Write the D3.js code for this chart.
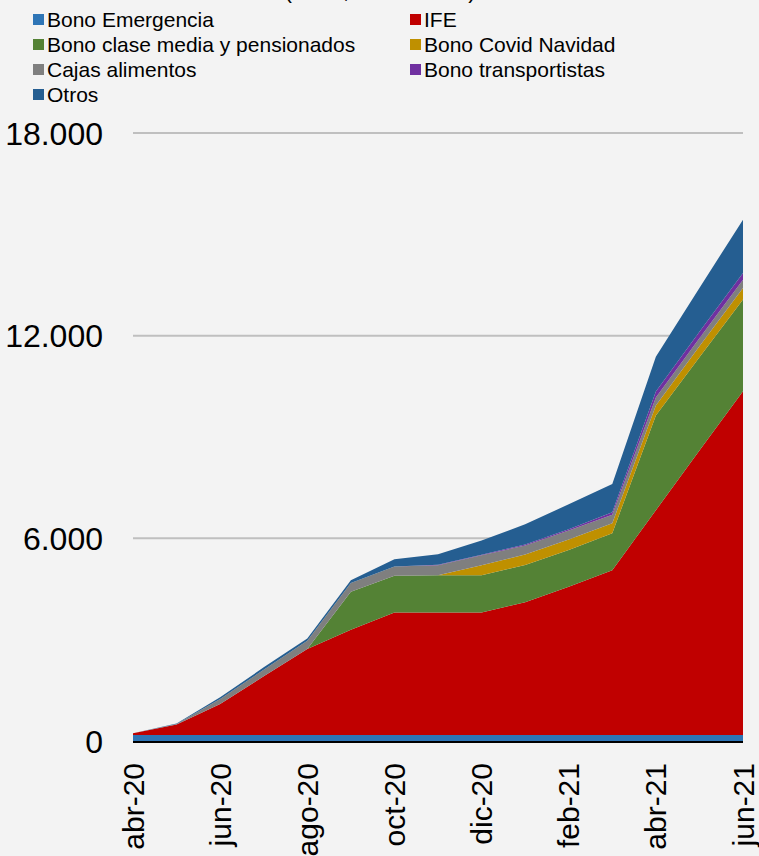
<!DOCTYPE html>
<html>
<head>
<meta charset="utf-8">
<script src="https://cdn.jsdelivr.net/npm/d3@7/dist/d3.min.js"></script>
<style>
  html, body { margin: 0; padding: 0; background: #f3f3f3; }
  svg { display: block; font-family: "Liberation Sans", Arial, sans-serif; }
</style>
</head>
<body>
<div id="chart"></div>
<script>
// Monthly cumulative payments by programme
const months = ['abr-20','may-20','jun-20','jul-20','ago-20','sep-20','oct-20','nov-20','dic-20','ene-21','feb-21','mar-21','abr-21','may-21','jun-21'];
const tickMonths = ['abr-20','jun-20','ago-20','oct-20','dic-20','feb-21','abr-21','jun-21'];

const bonoEmergencia = [180,180,180,180,180,180,180,180,180,180,180,180,180,180,180];
const ife            = [50,305,916,1735,2542,3113,3627,3627,3627,3930,4384,4877,6651,8424,10177];
const claseMedia     = [0,0,0,0,0,1129,1082,1103,1103,1100,1094,1094,2808,2760,2711];
const covidNavidad   = [0,0,0,0,0,0,0,0,296,310,307,296,296,320,345];
const cajas          = [0,20,148,195,245,257,278,296,290,270,266,251,236,240,245];
const transportistas = [0,0,0,0,0,0,0,15,20,30,40,74,177,190,198];
const otros          = [0,10,50,71,71,80,216,310,420,597,737,837,1026,1300,1576];

const seriesNames = ['Bono Emergencia','IFE','Bono clase media y pensionados','Bono Covid Navidad','Cajas alimentos','Bono transportistas','Otros'];
const seriesValues = [bonoEmergencia, ife, claseMedia, covidNavidad, cajas, transportistas, otros];
const colors = ['#2e75b6','#c00000','#548235','#bf9000','#7f7f7f','#7030a0','#255e91'];
const yTicks = [0, 6000, 12000, 18000];

const W = 759, H = 856;
const svg = d3.select('#chart').append('svg').attr('width', W).attr('height', H);

svg.append('rect').attr('width', W).attr('height', H).attr('fill', '#f3f3f3');

// title, mostly cut off at the top (as in the original)
svg.append('text')
    .attr('x', 380).attr('y', -2)
    .attr('text-anchor', 'middle')
    .style('font-size', '23px')
    .text('(MM$, acumulado)');

const x = d3.scalePoint().domain(months).range([133, 743]);
const y = d3.scaleLinear().domain([0, 18000]).range([741, 133]);

// gridlines
svg.append('g').selectAll('line')
    .data(yTicks.filter(d => d > 0))
    .enter().append('line')
    .attr('x1', 133).attr('x2', 743)
    .attr('y1', d => y(d)).attr('y2', d => y(d))
    .attr('stroke', '#bfbfbf').attr('stroke-width', 2);

// stacked areas
const table = months.map((m, i) => {
    const row = {month: m};
    seriesNames.forEach((s, k) => row[s] = seriesValues[k][i]);
    return row;
});
const stacked = d3.stack().keys(seriesNames)(table);
const area = d3.area()
    .x(d => x(d.data.month))
    .y0(d => y(d[0]))
    .y1(d => y(d[1]));

svg.append('g').selectAll('path')
    .data(stacked)
    .enter().append('path')
    .attr('d', area)
    .attr('fill', (d, i) => colors[i]);

// y axis labels
const yAxis = svg.append('g')
    .attr('transform', 'translate(103,0)')
    .call(d3.axisLeft(y).tickValues(yTicks).tickSize(0).tickPadding(0)
        .tickFormat(d => d3.format(',')(d).replace(/,/g, '.')));
yAxis.select('.domain').remove();
yAxis.selectAll('text')
    .attr('x', 0).attr('dy', '0.35em')
    .style('font-size', '32px').style('fill', '#000')
    .style('font-family', '"Liberation Sans", Arial, sans-serif');

// x axis
svg.append('line')
    .attr('x1', 133).attr('x2', 743)
    .attr('y1', 742).attr('y2', 742)
    .attr('stroke', '#000').attr('stroke-width', 2);

svg.append('g').selectAll('text')
    .data(tickMonths)
    .enter().append('text')
    .attr('transform', d => `translate(${x(d)},763) rotate(-90)`)
    .attr('text-anchor', 'end')
    .attr('dy', '0.35em')
    .style('font-size', '30px')
    .text(d => d);

// legend
const legend = svg.append('g');
seriesNames.forEach((s, i) => {
    const col = i % 2, row = Math.floor(i / 2);
    const lx = col === 0 ? 33 : 410;
    const ly = 26.5 + row * 25;
    legend.append('rect')
        .attr('x', lx).attr('y', ly - 12.5)
        .attr('width', 11).attr('height', 11)
        .attr('fill', colors[i]);
    legend.append('text')
        .attr('x', lx + 14).attr('y', ly)
        .style('font-size', '21px')
        .text(s);
});
</script>
</body>
</html>
